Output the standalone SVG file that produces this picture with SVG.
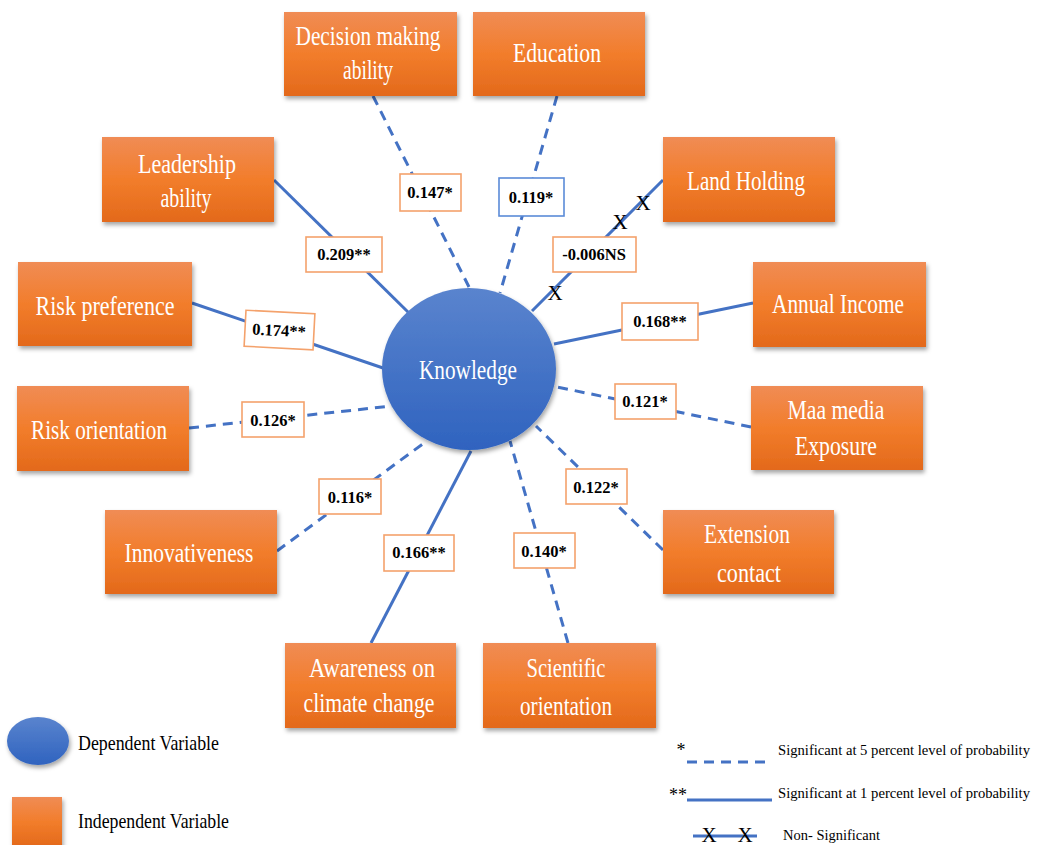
<svg xmlns="http://www.w3.org/2000/svg" width="1040" height="845" viewBox="0 0 1040 845">
<defs>
<linearGradient id="og" x1="0" y1="0" x2="0" y2="1">
<stop offset="0" stop-color="#F08C55"/><stop offset="0.5" stop-color="#F27D2B"/><stop offset="1" stop-color="#E3691B"/>
</linearGradient>
<linearGradient id="bg" x1="0" y1="0" x2="0" y2="1">
<stop offset="0" stop-color="#5A84CE"/><stop offset="1" stop-color="#2F63BF"/>
</linearGradient>
<filter id="sh" x="-10%" y="-10%" width="125%" height="130%">
<feDropShadow dx="1.5" dy="3" stdDeviation="2" flood-color="#000" flood-opacity="0.35"/>
</filter>
</defs>
<style>
.box{fill:url(#og);filter:url(#sh)}
.bt{fill:#fff;font-family:"Liberation Serif","Times New Roman",serif;font-size:27px;text-anchor:middle}
.ln{stroke:#4472C4;stroke-width:3;fill:none}
.ds{stroke-dasharray:10 7}
.lb{fill:#fff;stroke:#F4A26C;stroke-width:1.6}
.lt{fill:#000;font-family:"Liberation Serif","Times New Roman",serif;font-size:16.5px;font-weight:bold;text-anchor:middle}
.x{fill:#000;font-family:"Liberation Serif","Times New Roman",serif;font-size:21px;text-anchor:middle}
.lg{fill:#000;font-family:"Liberation Serif","Times New Roman",serif}
</style>

<g id="connectors">
<line class="ln ds" x1="373" y1="96" x2="469" y2="287"/>
<line class="ln ds" x1="557" y1="96" x2="500" y2="293"/>
<line class="ln" x1="274" y1="180" x2="409" y2="313"/>
<line class="ln" x1="663" y1="180" x2="532" y2="311"/>
<line class="ln" x1="192" y1="303" x2="383" y2="368"/>
<line class="ln" x1="753" y1="303" x2="554" y2="344"/>
<line class="ln ds" x1="189" y1="428" x2="392" y2="406"/>
<line class="ln ds" x1="751" y1="427" x2="557" y2="387"/>
<line class="ln ds" x1="277" y1="551" x2="424" y2="443"/>
<line class="ln" x1="371" y1="643" x2="471" y2="451"/>
<line class="ln ds" x1="568" y1="643" x2="510" y2="441"/>
<line class="ln ds" x1="663" y1="550" x2="536" y2="426"/>
<text class="x" x="643" y="210">X</text>
<text class="x" x="620" y="229">X</text>
<text class="x" x="555" y="300">X</text>
</g>

<g id="knowledge">
<ellipse cx="469" cy="369" rx="87" ry="81" fill="url(#bg)" filter="url(#sh)"/>
<text class="bt" x="468" y="379" textLength="98" lengthAdjust="spacingAndGlyphs">Knowledge</text>
</g>

<g id="decision"><rect class="box" x="284" y="12" width="173" height="84"/>
<text class="bt" x="368" y="45" textLength="145" lengthAdjust="spacingAndGlyphs">Decision making</text>
<text class="bt" x="368" y="79" textLength="50" lengthAdjust="spacingAndGlyphs">ability</text></g>

<g id="education"><rect class="box" x="473" y="12" width="172" height="84"/>
<text class="bt" x="557" y="62" textLength="88" lengthAdjust="spacingAndGlyphs">Education</text></g>

<g id="leadership"><rect class="box" x="102" y="137" width="172" height="85"/>
<text class="bt" x="187" y="173" textLength="98" lengthAdjust="spacingAndGlyphs">Leadership</text>
<text class="bt" x="186" y="207" textLength="51" lengthAdjust="spacingAndGlyphs">ability</text></g>

<g id="land"><rect class="box" x="663" y="137" width="172" height="85"/>
<text class="bt" x="746" y="190" textLength="118" lengthAdjust="spacingAndGlyphs">Land Holding</text></g>

<g id="riskpref"><rect class="box" x="18" y="262" width="174" height="84"/>
<text class="bt" x="105" y="315" textLength="139" lengthAdjust="spacingAndGlyphs">Risk preference</text></g>

<g id="income"><rect class="box" x="753" y="262" width="173" height="85"/>
<text class="bt" x="838" y="313" textLength="132" lengthAdjust="spacingAndGlyphs">Annual Income</text></g>

<g id="riskorient"><rect class="box" x="17" y="386" width="172" height="85"/>
<text class="bt" x="99" y="439" textLength="136" lengthAdjust="spacingAndGlyphs">Risk orientation</text></g>

<g id="media"><rect class="box" x="751" y="386" width="172" height="84"/>
<text class="bt" x="836" y="419" textLength="97" lengthAdjust="spacingAndGlyphs">Maa media</text>
<text class="bt" x="836" y="455" textLength="82" lengthAdjust="spacingAndGlyphs">Exposure</text></g>

<g id="innov"><rect class="box" x="105" y="510" width="172" height="84"/>
<text class="bt" x="189" y="562" textLength="129" lengthAdjust="spacingAndGlyphs">Innovativeness</text></g>

<g id="extension"><rect class="box" x="663" y="510" width="171" height="84"/>
<text class="bt" x="747" y="543" textLength="86" lengthAdjust="spacingAndGlyphs">Extension</text>
<text class="bt" x="749" y="582" textLength="64" lengthAdjust="spacingAndGlyphs">contact</text></g>

<g id="awareness"><rect class="box" x="285" y="643" width="171" height="85"/>
<text class="bt" x="372" y="677" textLength="126" lengthAdjust="spacingAndGlyphs">Awareness on</text>
<text class="bt" x="369" y="712" textLength="131" lengthAdjust="spacingAndGlyphs">climate change</text></g>

<g id="scientific"><rect class="box" x="483" y="643" width="173" height="85"/>
<text class="bt" x="566" y="677" textLength="79" lengthAdjust="spacingAndGlyphs">Scientific</text>
<text class="bt" x="566" y="715" textLength="92" lengthAdjust="spacingAndGlyphs">orientation</text></g>

<g id="labels">
<rect class="lb" x="400" y="174" width="61" height="37"/><text class="lt" x="430" y="198">0.147*</text>
<rect class="lb" x="499" y="178" width="65" height="38" style="stroke:#5B8BD8"/><text class="lt" x="531" y="203">0.119*</text>
<rect class="lb" x="553" y="237" width="83" height="35"/><text class="lt" x="594" y="260">-0.006NS</text>
<rect class="lb" x="306" y="237" width="76" height="35"/><text class="lt" x="344" y="260">0.209**</text>
<g transform="rotate(3 279 330)"><rect class="lb" x="245" y="312" width="69" height="36"/><text class="lt" x="279" y="336">0.174**</text></g>
<rect class="lb" x="622" y="303" width="76" height="37"/><text class="lt" x="660" y="327">0.168**</text>
<rect class="lb" x="242" y="402" width="62" height="35"/><text class="lt" x="273" y="426">0.126*</text>
<rect class="lb" x="615" y="384" width="61" height="35"/><text class="lt" x="645" y="407">0.121*</text>
<rect class="lb" x="319" y="479" width="62" height="35"/><text class="lt" x="350" y="503">0.116*</text>
<rect class="lb" x="566" y="469" width="61" height="35"/><text class="lt" x="596" y="493">0.122*</text>
<rect class="lb" x="384" y="535" width="70" height="36"/><text class="lt" x="419" y="558">0.166**</text>
<rect class="lb" x="514" y="533" width="61" height="35"/><text class="lt" x="544" y="557">0.140*</text>
</g>

<g id="legend">
<ellipse cx="38" cy="741" rx="31" ry="24" fill="url(#bg)" filter="url(#sh)"/>
<text class="lg" x="78" y="750" font-size="21" textLength="141" lengthAdjust="spacingAndGlyphs">Dependent Variable</text>
<rect class="box" x="12" y="797" width="50" height="50"/>
<text class="lg" x="78" y="828" font-size="21" textLength="151" lengthAdjust="spacingAndGlyphs">Independent Variable</text>

<text class="lg" x="681" y="756" font-size="18" text-anchor="middle">*</text>
<line class="ln ds" x1="687" y1="762" x2="772" y2="762"/>
<text class="lg" x="778" y="755" font-size="14" textLength="252" lengthAdjust="spacingAndGlyphs">Significant at 5 percent level of probability</text>

<text class="lg" x="678" y="801" font-size="18" text-anchor="middle">**</text>
<line class="ln" x1="687" y1="800" x2="772" y2="800"/>
<text class="lg" x="778" y="798" font-size="14" textLength="252" lengthAdjust="spacingAndGlyphs">Significant at 1 percent level of probability</text>

<line class="ln" x1="693" y1="836" x2="757" y2="836"/>
<text class="x" x="709" y="842" font-size="17">X</text>
<text class="x" x="745" y="842" font-size="17">X</text>
<text class="lg" x="783" y="840" font-size="15" textLength="97" lengthAdjust="spacingAndGlyphs">Non- Significant</text>
</g>
</svg>
